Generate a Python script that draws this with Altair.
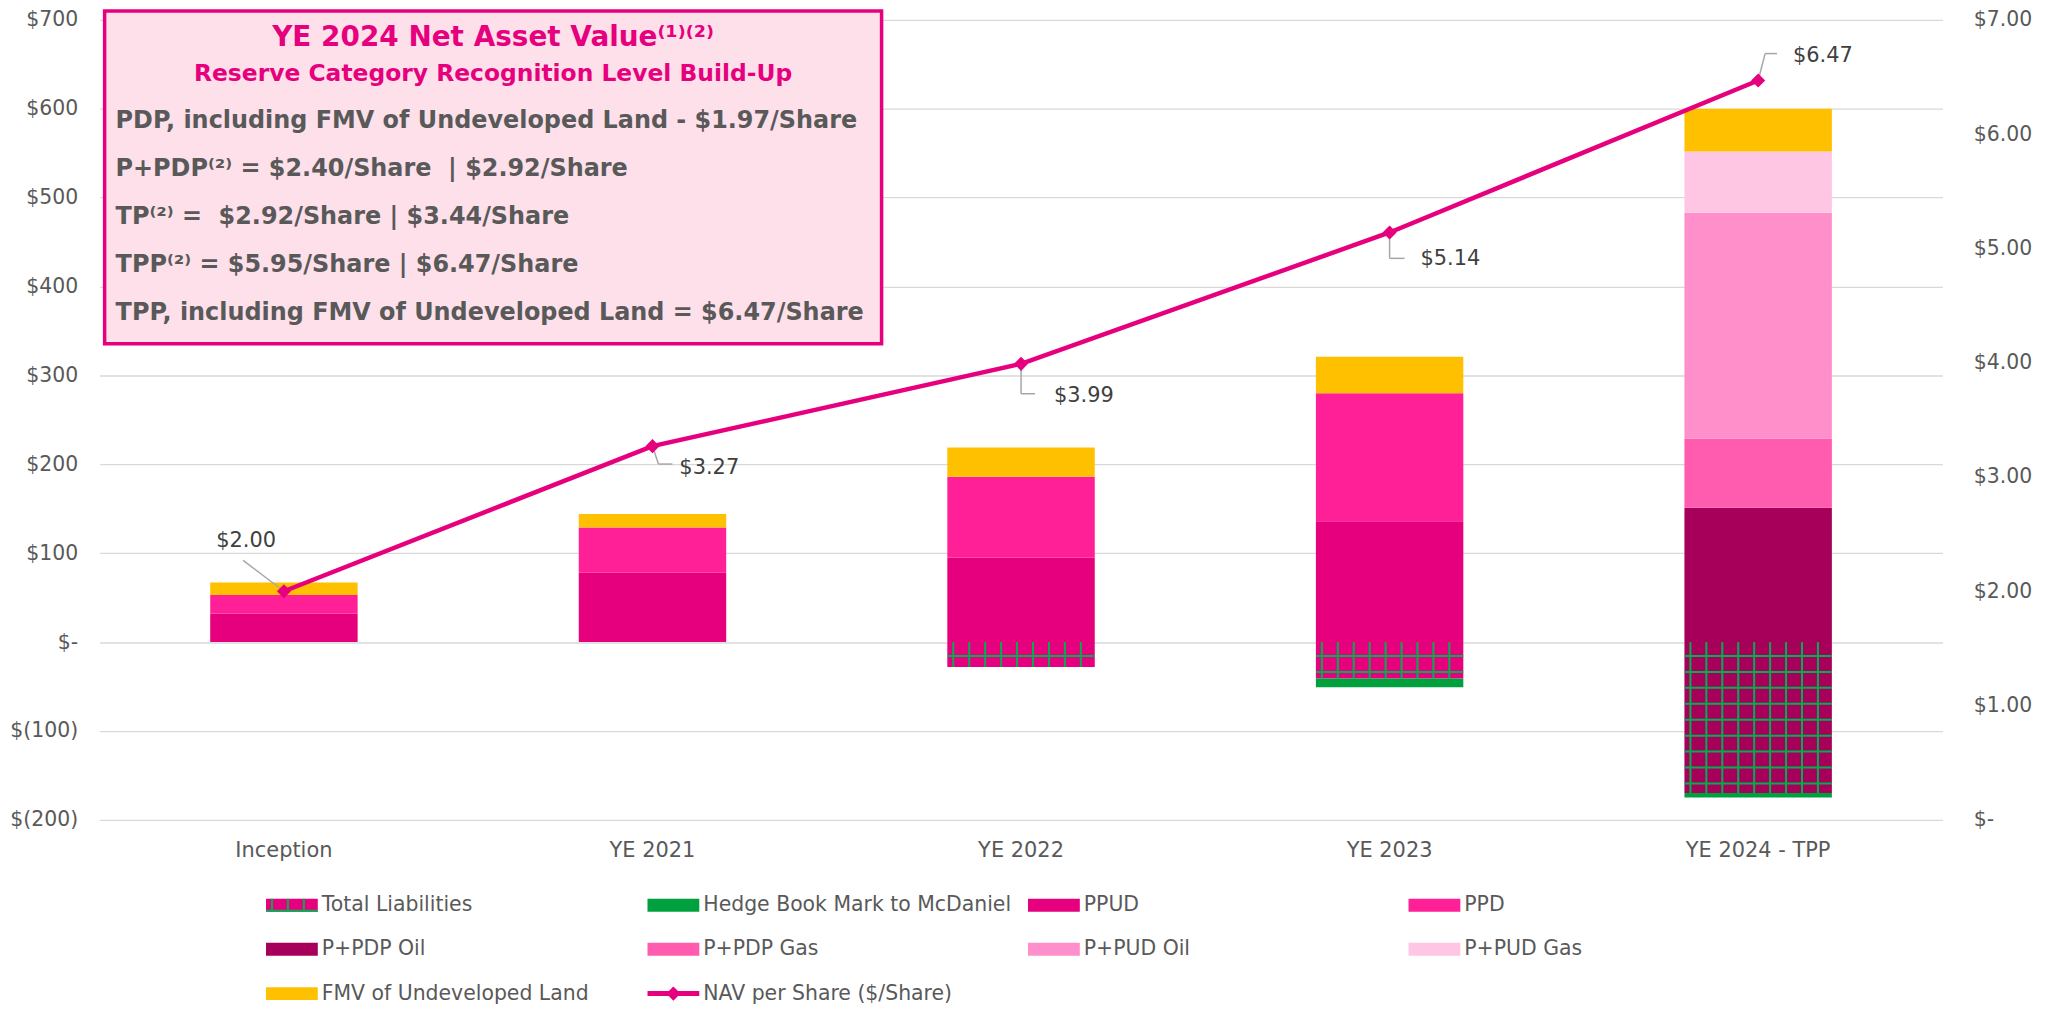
import json
import altair as alt
import pandas as pd

# ---------------- data ----------------
categories = ["Inception", "YE 2021", "YE 2022", "YE 2023", "YE 2024 - TPP"]
total_liabilities = [0, 0, -28, -41, -170]
hedge_book = [0, 0, 0, -10, -5]
ppud = [32, 78, 95, 136, 0]
ppd = [21, 51, 91, 144, 0]
ppdp_oil = [0, 0, 0, 0, 151]
ppdp_gas = [0, 0, 0, 0, 78]
ppud_oil = [0, 0, 0, 0, 254]
ppud_gas = [0, 0, 0, 0, 69]
fmv_land = [14, 15, 33, 41, 48]
nav_per_share = [2.00, 3.27, 3.99, 5.14, 6.47]
nav_labels = ["$2.00", "$3.27", "$3.99", "$5.14", "$6.47"]
left_ticks = [-200, -100, 0, 100, 200, 300, 400, 500, 600, 700]
right_ticks = [0, 1, 2, 3, 4, 5, 6, 7]

box_title = "YE 2024 Net Asset Value⁽¹⁾⁽²⁾"
box_subtitle = "Reserve Category Recognition Level Build-Up"
box_lines = [
    "PDP, including FMV of Undeveloped Land - $1.97/Share",
    "P+PDP⁽²⁾ = $2.40/Share \u00a0| $2.92/Share",
    "TP⁽²⁾ = \u00a0$2.92/Share | $3.44/Share",
    "TPP⁽²⁾ = $5.95/Share | $6.47/Share",
    "TPP, including FMV of Undeveloped Land = $6.47/Share",
]
legend_names = [
    "Total Liabilities", "Hedge Book Mark to McDaniel", "PPUD", "PPD",
    "P+PDP Oil", "P+PDP Gas", "P+PUD Oil", "P+PUD Gas",
    "FMV of Undeveloped Land", "NAV per Share ($/Share)",
]

# ---------------- styles ----------------
FONT = "DejaVu Sans"
MAG = "#E6007E"
GREEN_LINE = "#00B050"
GREY_TXT = "#595959"
colors = {
    "Total Liabilities": "#E6007E",
    "Hedge Book Mark to McDaniel": "#00A03E",
    "PPUD": "#E6007E",
    "PPD": "#FF1F96",
    "P+PDP Oil": "#A6005A",
    "P+PDP Gas": "#FF5BAF",
    "P+PUD Oil": "#FF8FCA",
    "P+PUD Gas": "#FFC6E4",
    "FMV of Undeveloped Land": "#FFC000",
}
liab_fill = ["#E6007E", "#E6007E", "#E6007E", "#E6007E", "#A6005A"]

W, H = 1850, 803
X_DOMAIN = [-0.5, 4.5]
BAR_DOMAIN = [-200, 700]
NAV_DOMAIN = [0, 7]
px_x = W / (X_DOMAIN[1] - X_DOMAIN[0])
px_bar = H / (BAR_DOMAIN[1] - BAR_DOMAIN[0])
px_nav = H / (NAV_DOMAIN[1] - NAV_DOMAIN[0])
HALF = 0.2
BAR_PX = 2 * HALF * px_x


def xs():
    return alt.Scale(domain=X_DOMAIN, nice=False, zero=False)


def ys_bar():
    return alt.Scale(domain=BAR_DOMAIN, nice=False, zero=False)


def ys_nav():
    return alt.Scale(domain=NAV_DOMAIN, nice=False, zero=False)


# ---------------- stacked segments ----------------
positive = [("PPUD", ppud), ("PPD", ppd), ("P+PDP Oil", ppdp_oil), ("P+PDP Gas", ppdp_gas),
            ("P+PUD Oil", ppud_oil), ("P+PUD Gas", ppud_gas), ("FMV of Undeveloped Land", fmv_land)]
negative = [("Total Liabilities", total_liabilities), ("Hedge Book Mark to McDaniel", hedge_book)]
seg_rows, hv_rows, hh_rows = [], [], []
for i, cat in enumerate(categories):
    base = 0
    for name, vals in positive:
        v = vals[i]
        if v > 0:
            seg_rows.append(dict(x0=i - HALF, x1=i + HALF, y0=base, y1=base + v,
                                 color=colors[name], series=name, cat=cat))
            base += v
    base = 0
    for name, vals in negative:
        v = vals[i]
        if v < 0:
            col = liab_fill[i] if name == "Total Liabilities" else colors[name]
            seg_rows.append(dict(x0=i - HALF, x1=i + HALF, y0=base, y1=base + v,
                                 color=col, series=name, cat=cat))
            base += v
    lv = total_liabilities[i]
    if lv < 0:
        off = 6
        while off < BAR_PX:
            hv_rows.append(dict(x=i - HALF + off / px_x, y0=0, y1=lv))
            off += 16
        off = 14
        while -off / px_bar > lv:
            hh_rows.append(dict(x0=i - HALF, x1=i + HALF, y=-off / px_bar))
            off += 16
seg_df = pd.DataFrame(seg_rows)
hv_df = pd.DataFrame(hv_rows)
hh_df = pd.DataFrame(hh_rows)
cat_df = pd.DataFrame({"idx": list(range(len(categories))), "cat": categories})

left_axis = alt.Axis(values=left_ticks, orient="left",
                     labelExpr="datum.value == 0 ? '$-\u00a0' : (datum.value < 0 ? '$(' + abs(datum.value) + ')' : '$' + datum.value + '\u00a0')",
                     labelFont=FONT, labelColor=GREY_TXT, labelFontSize=20.5, labelPadding=22,
                     grid=True, gridColor="#D9D9D9", gridWidth=1.3,
                     ticks=False, domain=False, title=None)
right_axis = alt.Axis(values=right_ticks, orient="right",
                      labelExpr="datum.value == 0 ? '$-' : '$' + format(datum.value, '.2f')",
                      labelFont=FONT, labelColor=GREY_TXT, labelFontSize=20.5, labelPadding=31,
                      grid=False, ticks=False, domain=False, title=None)

bars = alt.Chart(seg_df).mark_rect().encode(
    x=alt.X("x0:Q", scale=xs(), axis=None), x2="x1:Q",
    y=alt.Y("y0:Q", scale=ys_bar(), axis=left_axis), y2="y1:Q",
    color=alt.Color("color:N", scale=None),
)
hatch_v = alt.Chart(hv_df).mark_rule(color=GREEN_LINE, strokeWidth=2).encode(
    x=alt.X("x:Q", scale=xs(), axis=None),
    y=alt.Y("y0:Q", scale=ys_bar(), axis=None), y2="y1:Q",
)
hatch_h = alt.Chart(hh_df).mark_rule(color=GREEN_LINE, strokeWidth=2).encode(
    x=alt.X("x0:Q", scale=xs(), axis=None), x2="x1:Q",
    y=alt.Y("y:Q", scale=ys_bar(), axis=None),
)
# category labels under the plot (x from the shared scale)
cat_text = alt.Chart(cat_df).mark_text(font=FONT, fontSize=21, color=GREY_TXT, align="center",
                                       baseline="middle").encode(
    x=alt.X("idx:Q", scale=xs(), axis=None),
    y=alt.value(H + 31),
    text="cat:N",
)

# ---------------- NAV line ----------------
nav_df = pd.DataFrame({"idx": list(range(len(categories))), "nav": nav_per_share, "label": nav_labels})
# pixel offsets from each marker: elbow, end of leader, start of label
leader_layout = [
    ((-41, -31), (-41, -31), (-68, -50)),
    ((6, 18), (20, 18), (27, 22)),
    ((0, 30), (14, 30), (33, 32)),
    ((0, 26), (15, 26), (31, 27)),
    ((7, -27), (19, -27), (35, -25)),
]
lead_rows, lab_rows = [], []
for i, (elbow, end, lab) in enumerate(leader_layout):
    ex, ey = i + elbow[0] / px_x, nav_per_share[i] - elbow[1] / px_nav
    nx, ny = i + end[0] / px_x, nav_per_share[i] - end[1] / px_nav
    lead_rows.append(dict(x=i, y=nav_per_share[i], x2=ex, y2=ey))
    lead_rows.append(dict(x=ex, y=ey, x2=nx, y2=ny))
    lab_rows.append(dict(x=i + lab[0] / px_x, y=nav_per_share[i] - lab[1] / px_nav, text=nav_labels[i]))
lead_df = pd.DataFrame(lead_rows)
lab_df = pd.DataFrame(lab_rows)

nav_line = alt.Chart(nav_df).mark_line(color=MAG, strokeWidth=4.5).encode(
    x=alt.X("idx:Q", scale=xs(), axis=None),
    y=alt.Y("nav:Q", scale=ys_nav(), axis=right_axis),
)
nav_pts = alt.Chart(nav_df).mark_point(shape="diamond", filled=True, size=200, color=MAG, opacity=1).encode(
    x=alt.X("idx:Q", scale=xs(), axis=None),
    y=alt.Y("nav:Q", scale=ys_nav(), axis=None),
)
leaders = alt.Chart(lead_df).mark_rule(color="#A6A6A6", strokeWidth=1.5).encode(
    x=alt.X("x:Q", scale=xs(), axis=None), x2="x2:Q",
    y=alt.Y("y:Q", scale=ys_nav(), axis=None), y2="y2:Q",
)
nav_text = alt.Chart(lab_df).mark_text(font=FONT, fontSize=21, color="#404040", align="left",
                                       baseline="middle").encode(
    x=alt.X("x:Q", scale=xs(), axis=None),
    y=alt.Y("y:Q", scale=ys_nav(), axis=None),
    text="text:N",
)

# ---------------- overlays in pixel space (text box, legend) ----------------
one = pd.DataFrame({"k": [0]})


def rect_px(x0, x1, y0, y1, **mark):
    return alt.Chart(one).mark_rect(**mark).encode(
        x=alt.value(x0), x2=alt.value(x1), y=alt.value(y0), y2=alt.value(y1))


def hrule_px(x0, x1, y, **mark):
    return alt.Chart(one).mark_rule(**mark).encode(x=alt.value(x0), x2=alt.value(x1), y=alt.value(y))


def vrule_px(x, y0, y1, **mark):
    return alt.Chart(one).mark_rule(**mark).encode(x=alt.value(x), y=alt.value(y0), y2=alt.value(y1))


def text_px(txt, x, y, **mark):
    return alt.Chart(pd.DataFrame({"t": [txt]})).mark_text(baseline="middle", font=FONT, **mark).encode(
        x=alt.value(x), y=alt.value(y), text="t:N")


overlays = []
overlays.append(rect_px(5, 785, -9, 325, fill="#FDE0E9", stroke=MAG, strokeWidth=3.5))
overlays.append(text_px(box_title, 395, 18, fontSize=28, fontWeight="bold", color=MAG, align="center"))
overlays.append(text_px(box_subtitle, 395, 54.5, fontSize=23.5, fontWeight="bold", color=MAG, align="center"))
for k, line in enumerate(box_lines):
    overlays.append(text_px(line, 16, 102 + 48 * k, fontSize=24, fontWeight="bold", color=GREY_TXT, align="left"))

col_left = [167, 550, 932, 1314]
row_y = [888.7, 933, 977.5]
SW_W, SW_H = 52, 13
for k, name in enumerate(legend_names):
    r, c = divmod(k, 4)
    lx, ly = col_left[c], row_y[r]
    if name == "NAV per Share ($/Share)":
        overlays.append(hrule_px(lx, lx + SW_W, ly, color=MAG, strokeWidth=5))
        overlays.append(alt.Chart(one).mark_point(shape="diamond", filled=True, size=200, color=MAG,
                                                  opacity=1).encode(x=alt.value(lx + SW_W / 2), y=alt.value(ly)))
    else:
        overlays.append(rect_px(lx, lx + SW_W, ly - SW_H / 2, ly + SW_H / 2, color=colors[name]))
        if name == "Total Liabilities":
            for o in (6, 22, 38):
                overlays.append(vrule_px(lx + o, ly - SW_H / 2, ly + SW_H / 2, color=GREEN_LINE, strokeWidth=2))
            overlays.append(hrule_px(lx, lx + SW_W, ly + SW_H / 2 - 1, color=GREEN_LINE, strokeWidth=2))
    overlays.append(text_px(name, lx + 56, ly, fontSize=20.5, color=GREY_TXT, align="left"))

chart = alt.layer(
    bars, hatch_v, hatch_h, cat_text, leaders, nav_line, nav_pts, nav_text, *overlays
).resolve_scale(y="independent").properties(
    width=W, height=H,
    autosize=alt.AutoSizeParams(type="none"),
    padding={"left": 92, "top": 10, "right": 112, "bottom": 190},
).configure_view(stroke=None)

chart.save("out.html", embed_options={"renderer": "svg", "actions": False})
